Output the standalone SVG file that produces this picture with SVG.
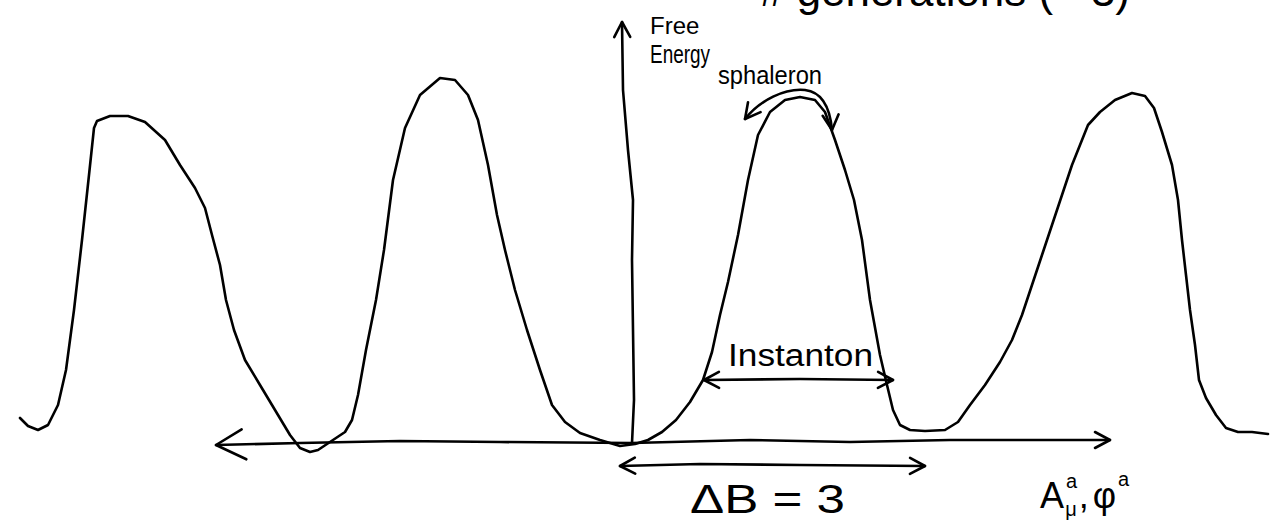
<svg xmlns="http://www.w3.org/2000/svg" width="1278" height="523" viewBox="0 0 1278 523">
<style>
.ln{fill:none;stroke:#000;stroke-width:2.6;stroke-linecap:round;stroke-linejoin:round}
.tx{font-family:"Liberation Sans",Arial,sans-serif;fill:#000}
</style>
<defs>
<marker id="ah" viewBox="0 0 20 20" refX="18" refY="10" markerWidth="20" markerHeight="20" markerUnits="userSpaceOnUse" orient="auto-start-reverse">
<path d="M3,2 L18,10 L3,18" fill="none" stroke="#000" stroke-width="2.6" stroke-linecap="round" stroke-linejoin="round"/>
</marker>
<marker id="ahL" viewBox="0 0 36 36" refX="34" refY="18" markerWidth="36" markerHeight="36" markerUnits="userSpaceOnUse" orient="auto-start-reverse">
<path d="M4,3 L34,18 L8,33" fill="none" stroke="#000" stroke-width="2.6" stroke-linecap="round" stroke-linejoin="round"/>
</marker>
</defs>
<rect width="1278" height="523" fill="#fff"/>
<g id="title">
<text class="tx" x="760" y="6" font-size="44" textLength="370" lengthAdjust="spacingAndGlyphs"># generations (= 3)</text>
</g>
<g id="energy-curve">
<path class="ln" d="M20,418 L28,426 L38,430 L48,425 L58,405 L66,370 L74,310 L82,240 L89,175 L94,128 L97,121 L110,116 L128,116 L145,122 L165,140 L180,165 L195,188 L205,208 L212,235 L220,265 L226,300 L234,330 L245,360 L260,385 L275,410 L290,435 L300,448 L310,452 L318,450 L330,442 L345,432 L352,420 L358,395 L366,350 L376,300 L384,250 L393,180 L405,128 L420,95 L440,78 L455,80 L468,95 L478,120 L488,165 L497,215 L505,250 L515,290 L527,330 L540,370 L552,405 L565,422 L580,433 L600,440 L620,446 L635,444 L648,440 L662,432 L676,420 L690,402 L703,380 L712,352 L720,315 L728,282 L738,235 L748,180 L758,135 L770,112 L785,100 L800,97 L815,100 L825,112 L835,140 L845,170 L854,200 L862,240 L870,300 L880,355 L887,385 L893,410 L900,425 L910,430 L925,431 L945,430 L958,422 L970,405 L985,385 L1000,362 L1012,340 L1022,315 L1032,285 L1042,255 L1052,225 L1062,195 L1072,165 L1080,145 L1088,125 L1100,112 L1115,100 L1132,93 L1145,96 L1154,108 L1162,132 L1172,165 L1178,200 L1182,240 L1186,275 L1190,310 L1195,345 L1199,380 L1206,398 L1216,415 L1226,428 L1238,432 L1252,432 L1268,434"/>
</g>
<g id="connectors">
<path id="y-axis" class="ln" d="M632,443 L634,400 L633,330 L632,260 L633,200 L628,150 L623,90 L622,22" marker-end="url(#ah)"/>
<path id="x-axis" class="ln" d="M216,445 L300,443 L400,441 L500,442 L632,443 L750,440 L850,442 L950,440 L1050,440 L1110,440" marker-start="url(#ahL)" marker-end="url(#ah)"/>
<path id="instanton-arrow" class="ln" d="M704,380 L800,379 L893,380" marker-start="url(#ah)" marker-end="url(#ah)"/>
<path id="deltaB-arrow" class="ln" d="M620,466 L700,464 L800,465 L925,466" marker-start="url(#ah)" marker-end="url(#ah)"/>
<path id="sphaleron-arrow" class="ln" d="M745,119 C760,100 785,88 805,90 C822,92 830,108 832,130" marker-start="url(#ah)" marker-end="url(#ah)"/>
</g>
<g id="label-free-energy">
<text class="tx" x="650" y="34" font-size="24">Free</text>
<text class="tx" x="650" y="63" font-size="26" textLength="60" lengthAdjust="spacingAndGlyphs">Energy</text>
</g>
<g id="label-sphaleron">
<text class="tx" x="718" y="84" font-size="26" textLength="104" lengthAdjust="spacingAndGlyphs">sphaleron</text>
</g>
<g id="label-instanton">
<text class="tx" x="728" y="366" font-size="31" textLength="145" lengthAdjust="spacingAndGlyphs">Instanton</text>
</g>
<g id="label-deltaB">
<text class="tx" x="690" y="513" font-size="40" textLength="155" lengthAdjust="spacingAndGlyphs">ΔB = 3</text>
</g>
<g id="label-fields">
<text class="tx" x="1040" y="508" font-size="36">A<tspan font-size="20" dx="2" dy="-20">a</tspan><tspan font-size="20" dx="-12" dy="28">μ</tspan><tspan dx="2" dy="-8">,</tspan><tspan dx="4">φ</tspan><tspan font-size="20" dx="2" dy="-22">a</tspan></text>
</g>
</svg>
